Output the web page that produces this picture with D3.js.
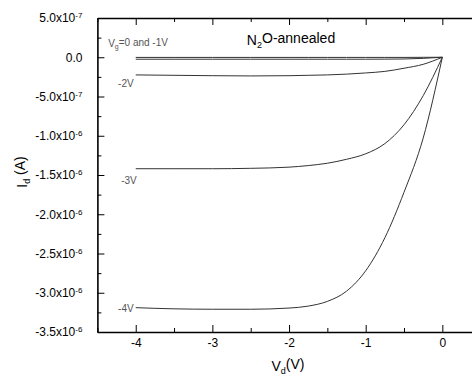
<!DOCTYPE html>
<html>
<head>
<meta charset="utf-8">
<script src="https://cdn.jsdelivr.net/npm/d3@7"></script>
<style>
  body { margin: 0; background: #fff; }
  svg { display: block; font-family: "Liberation Sans", Arial, sans-serif; }
</style>
</head>
<body>
<svg width="472" height="378"></svg>
<script>
// drain voltage, V
const vd = [-4, -3.5, -3, -2.5, -2, -1.75, -1.5, -1.25, -1, -0.75, -0.5, -0.25, 0];

// drain current, A, per gate voltage
const idVg0 = [-0.2e-8, -0.2e-8, -0.2e-8, -0.2e-8, -0.2e-8, -0.2e-8, -0.2e-8, -0.2e-8, -0.2e-8, -0.2e-8, -0.2e-8, -0.1e-8, 0];
const idVg1 = [-2.5e-8, -2.5e-8, -2.5e-8, -2.5e-8, -2.5e-8, -2.5e-8, -2.5e-8, -2.5e-8, -2.5e-8, -2.4e-8, -2.2e-8, -1.4e-8, 0];
const idVg2 = [-2.25e-7, -2.3e-7, -2.35e-7, -2.38e-7, -2.35e-7, -2.3e-7, -2.25e-7, -2.15e-7, -2.0e-7, -1.8e-7, -1.4e-7, -0.9e-7, 0];
const idVg3 = [-1.42e-6, -1.42e-6, -1.42e-6, -1.415e-6, -1.40e-6, -1.38e-6, -1.35e-6, -1.30e-6, -1.23e-6, -1.10e-6, -0.86e-6, -0.49e-6, 0];
const idVg4 = [-3.19e-6, -3.205e-6, -3.21e-6, -3.21e-6, -3.195e-6, -3.17e-6, -3.11e-6, -2.98e-6, -2.72e-6, -2.30e-6, -1.72e-6, -1.03e-6, 0];

const xTicks = [-4, -3, -2, -1, 0];
const xMinor = [-4.5, -3.5, -2.5, -1.5, -0.5];
const yTicks = [5e-7, 0, -5e-7, -1e-6, -1.5e-6, -2e-6, -2.5e-6, -3e-6, -3.5e-6];
const yMinor = [2.5e-7, -2.5e-7, -7.5e-7, -1.25e-6, -1.75e-6, -2.25e-6, -2.75e-6, -3.25e-6];

// curve labels, anchored at data coordinates
const curveLabels = [
  { text: "-2V", v: -4.23, i: -3.8e-7 },
  { text: "-3V", v: -4.19, i: -1.61e-6 },
  { text: "-4V", v: -4.23, i: -3.25e-6 }
];

const svg = d3.select("svg");

const x = d3.scaleLinear().domain([-4.5, 0.4]).range([97.4, 473]);
const y = d3.scaleLinear().domain([-3.5e-6, 5e-7]).range([332, 18]);

// y tick label: mantissa x10^exp
function sciLabel(sel) {
  sel.each(function(d) {
    const t = d3.select(this).text("");
    if (d === 0) { t.text("0.0"); return; }
    const e = Math.floor(Math.log10(Math.abs(d)));
    const m = d / Math.pow(10, e);
    t.append("tspan").text(m.toFixed(1) + "x10");
    t.append("tspan").attr("dy", "-0.5em").attr("font-size", "8px").text(String(e));
  });
}

// bottom axis
const gx = svg.append("g")
  .attr("transform", `translate(0,${y.range()[0]})`)
  .call(d3.axisBottom(x).tickValues(xTicks).tickSizeInner(-7).tickSizeOuter(0)
        .tickPadding(6).tickFormat(d => String(d)));
gx.append("g").call(d3.axisBottom(x).tickValues(xMinor).tickSize(-4).tickFormat(""))
  .select(".domain").remove();

// top axis (mirror)
const gt = svg.append("g")
  .attr("transform", `translate(0,${y.range()[1]})`)
  .call(d3.axisTop(x).tickValues(xTicks).tickSizeInner(-7).tickSizeOuter(0).tickFormat(""));
gt.append("g").call(d3.axisTop(x).tickValues(xMinor).tickSize(-4).tickFormat(""))
  .select(".domain").remove();

// left axis
const gy = svg.append("g")
  .attr("transform", `translate(${x.range()[0]},0)`)
  .call(d3.axisLeft(y).tickValues(yTicks).tickSizeInner(-7).tickSizeOuter(0).tickPadding(15));
gy.selectAll(".tick text").call(sciLabel);
gy.append("g").call(d3.axisLeft(y).tickValues(yMinor).tickSize(-4).tickFormat(""))
  .select(".domain").remove();

svg.selectAll(".domain").attr("stroke", "#000").attr("stroke-width", 1.6);
svg.selectAll(".tick line").attr("stroke", "#000");
svg.selectAll(".tick text").attr("font-size", "12px").attr("fill", "#000")
  .attr("font-family", "'Liberation Sans', Arial, sans-serif");

// curves
const line = d3.line()
  .x((d, k) => x(vd[k]))
  .y(d => y(d))
  .curve(d3.curveMonotoneX);

[idVg0, idVg1, idVg2, idVg3, idVg4].forEach(s => {
  svg.append("path")
    .datum(s)
    .attr("d", line)
    .attr("fill", "none")
    .attr("stroke", "#333")
    .attr("stroke-width", 1);
});

// curve labels
svg.selectAll(".clabel")
  .data(curveLabels)
  .enter()
  .append("text")
  .attr("x", d => x(d.v))
  .attr("y", d => y(d.i))
  .attr("font-size", "10px")
  .attr("fill", "#555")
  .text(d => d.text);

const vgLabel = svg.append("text")
  .attr("x", x(-4.36))
  .attr("y", y(1.3e-7))
  .attr("font-size", "10px")
  .attr("fill", "#555");
vgLabel.append("tspan").text("V");
vgLabel.append("tspan").attr("dy", "0.35em").attr("font-size", "7px").text("g");
vgLabel.append("tspan").attr("dy", "-0.35em").text("=0 and -1V");

const title = svg.append("text")
  .attr("x", x(-2.55))
  .attr("y", y(1.6e-7))
  .attr("font-size", "14px")
  .attr("fill", "#000");
title.append("tspan").text("N");
title.append("tspan").attr("dy", "0.35em").attr("font-size", "9px").text("2");
title.append("tspan").attr("dy", "-0.35em").text("O-annealed");

// axis titles
const xt = svg.append("text")
  .attr("x", 288)
  .attr("y", 371)
  .attr("text-anchor", "middle")
  .attr("font-size", "14px");
xt.append("tspan").text("V");
xt.append("tspan").attr("dy", "0.35em").attr("font-size", "9px").text("d");
xt.append("tspan").attr("dy", "-0.35em").text("(V)");

const yt = svg.append("text")
  .attr("transform", "translate(27,172) rotate(-90)")
  .attr("text-anchor", "middle")
  .attr("font-size", "14px");
yt.append("tspan").text("I");
yt.append("tspan").attr("dy", "0.35em").attr("font-size", "9px").text("d");
yt.append("tspan").attr("dy", "-0.35em").text(" (A)");
</script>
</body>
</html>
